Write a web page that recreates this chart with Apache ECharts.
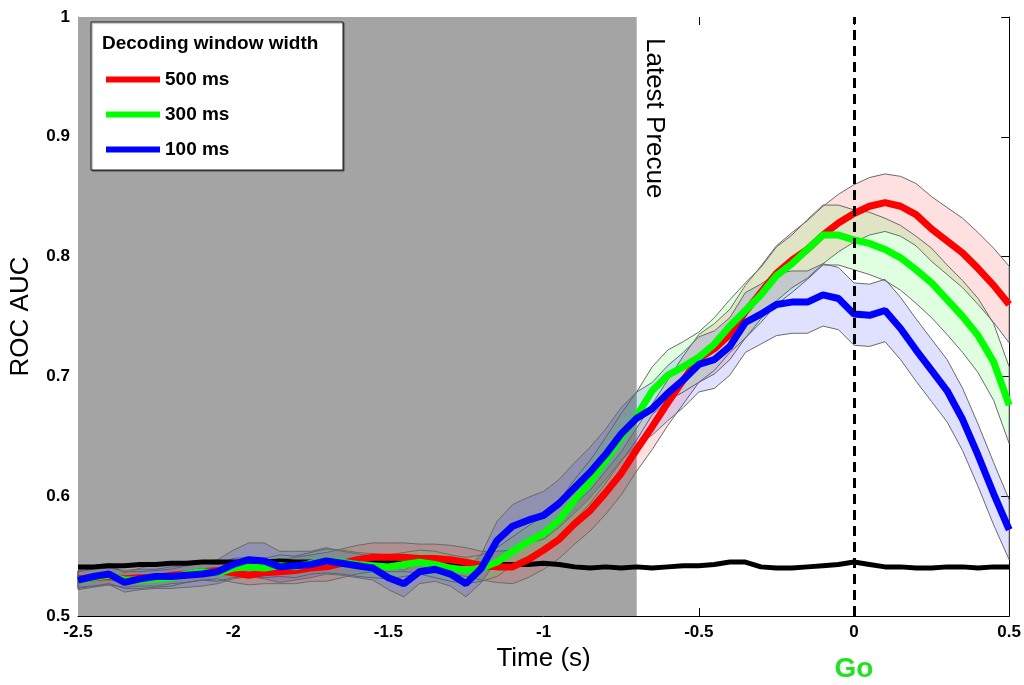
<!DOCTYPE html>
<html>
<head>
<meta charset="utf-8">
<script src="https://cdn.jsdelivr.net/npm/echarts@6/dist/echarts.min.js"></script>
<style>
  html, body { margin: 0; padding: 0; background: #fff; }
  #chart { width: 1024px; height: 685px; }
</style>
</head>
<body>
<div id="chart"></div>
<script>
// time axis (s), sampled every 50 ms
const times = [-2.5, -2.45, -2.4, -2.35, -2.3, -2.25, -2.2, -2.15, -2.1, -2.05,
  -2.0, -1.95, -1.9, -1.85, -1.8, -1.75, -1.7, -1.65, -1.6, -1.55,
  -1.5, -1.45, -1.4, -1.35, -1.3, -1.25, -1.2, -1.15, -1.1, -1.05,
  -1.0, -0.95, -0.9, -0.85, -0.8, -0.75, -0.7, -0.65, -0.6, -0.55,
  -0.5, -0.45, -0.4, -0.35, -0.3, -0.25, -0.2, -0.15, -0.1, -0.05,
  0, 0.05, 0.1, 0.15, 0.2, 0.25, 0.3, 0.35, 0.4, 0.45, 0.5]

// 500 ms window
const red500 = [0.531, 0.532, 0.533, 0.531, 0.532, 0.532, 0.534, 0.535, 0.537, 0.538,
  0.536, 0.534, 0.536, 0.537, 0.538, 0.540, 0.541, 0.544, 0.547, 0.549,
  0.549, 0.549, 0.548, 0.548, 0.547, 0.545, 0.542, 0.541, 0.541, 0.547,
  0.555, 0.564, 0.577, 0.588, 0.603, 0.619, 0.639, 0.658, 0.678, 0.697,
  0.715, 0.723, 0.735, 0.754, 0.770, 0.786, 0.797, 0.806, 0.818, 0.828,
  0.836, 0.842, 0.845, 0.842, 0.835, 0.823, 0.813, 0.803, 0.790, 0.776, 0.760]
const red500Err = [0.007, 0.007, 0.007, 0.007, 0.007, 0.007, 0.007, 0.007, 0.007, 0.007,
  0.008, 0.008, 0.009, 0.010, 0.011, 0.011, 0.012, 0.012, 0.012, 0.012,
  0.012, 0.012, 0.012, 0.012, 0.012, 0.012, 0.012, 0.013, 0.014, 0.015,
  0.016, 0.016, 0.017, 0.017, 0.018, 0.018, 0.018, 0.019, 0.019, 0.020,
  0.020, 0.021, 0.021, 0.022, 0.022, 0.023, 0.023, 0.024, 0.024, 0.024,
  0.024, 0.024, 0.024, 0.025, 0.026, 0.027, 0.028, 0.029, 0.030, 0.031, 0.032]

// 300 ms window
const green300 = [0.530, 0.532, 0.534, 0.530, 0.530, 0.531, 0.532, 0.535, 0.537, 0.536,
  0.540, 0.541, 0.540, 0.542, 0.541, 0.544, 0.546, 0.545, 0.543, 0.542,
  0.541, 0.543, 0.545, 0.543, 0.540, 0.538, 0.540, 0.545, 0.554, 0.562,
  0.569, 0.580, 0.597, 0.612, 0.630, 0.649, 0.667, 0.688, 0.701, 0.708,
  0.716, 0.727, 0.742, 0.755, 0.768, 0.784, 0.794, 0.806, 0.818, 0.818,
  0.814, 0.811, 0.806, 0.799, 0.789, 0.778, 0.764, 0.750, 0.734, 0.712, 0.676]
const green300Err = [0.007, 0.007, 0.007, 0.007, 0.007, 0.007, 0.007, 0.007, 0.007, 0.007,
  0.008, 0.008, 0.008, 0.009, 0.009, 0.009, 0.010, 0.010, 0.010, 0.010,
  0.010, 0.010, 0.010, 0.011, 0.011, 0.011, 0.011, 0.012, 0.012, 0.013,
  0.015, 0.016, 0.017, 0.018, 0.019, 0.020, 0.020, 0.020, 0.021, 0.021,
  0.021, 0.022, 0.022, 0.023, 0.023, 0.024, 0.024, 0.025, 0.025, 0.025,
  0.025, 0.026, 0.026, 0.027, 0.028, 0.029, 0.029, 0.030, 0.031, 0.032, 0.032]

// 100 ms window
const blue100 = [0.530, 0.533, 0.535, 0.528, 0.531, 0.533, 0.533, 0.534, 0.535, 0.537,
  0.543, 0.547, 0.546, 0.541, 0.542, 0.543, 0.546, 0.544, 0.542, 0.540,
  0.532, 0.527, 0.537, 0.539, 0.535, 0.527, 0.540, 0.563, 0.575, 0.580,
  0.584, 0.594, 0.607, 0.620, 0.635, 0.652, 0.665, 0.673, 0.686, 0.697,
  0.710, 0.714, 0.725, 0.745, 0.752, 0.760, 0.762, 0.762, 0.768, 0.765,
  0.752, 0.751, 0.755, 0.740, 0.722, 0.705, 0.688, 0.664, 0.634, 0.602, 0.572]
const blue100Err = [0.008, 0.009, 0.009, 0.008, 0.009, 0.010, 0.010, 0.010, 0.010, 0.010,
  0.012, 0.014, 0.015, 0.013, 0.012, 0.011, 0.011, 0.010, 0.010, 0.010,
  0.010, 0.011, 0.010, 0.010, 0.010, 0.011, 0.012, 0.016, 0.018, 0.019,
  0.020, 0.020, 0.021, 0.021, 0.021, 0.022, 0.022, 0.022, 0.023, 0.023,
  0.023, 0.024, 0.024, 0.025, 0.025, 0.026, 0.026, 0.026, 0.026, 0.026,
  0.026, 0.026, 0.026, 0.026, 0.026, 0.026, 0.026, 0.026, 0.026, 0.026, 0.025]

// shuffled / chance level
const chance = [0.541, 0.541, 0.542, 0.542, 0.543, 0.543, 0.544, 0.544, 0.545, 0.545,
  0.545, 0.545, 0.545, 0.546, 0.545, 0.545, 0.545, 0.545, 0.545, 0.545,
  0.545, 0.544, 0.545, 0.545, 0.544, 0.544, 0.543, 0.543, 0.543, 0.543,
  0.544, 0.543, 0.541, 0.540, 0.541, 0.540, 0.541, 0.540, 0.541, 0.542,
  0.542, 0.543, 0.545, 0.545, 0.541, 0.540, 0.540, 0.541, 0.542, 0.543,
  0.545, 0.543, 0.541, 0.541, 0.540, 0.540, 0.541, 0.541, 0.540, 0.541, 0.541]

const latestPrecue = -0.70 // end of grey precue period
const goTime = 0

const FONT = '"Liberation Sans", Arial, sans-serif'

function pairs(arr) {
  return times.map((t, i) => [t, arr[i]])
}

// shaded band (mean +/- err) drawn as one polygon through the axes
function band(name, mean, err, fill) {
  return {
    type: 'custom',
    name: name,
    silent: true,
    z: 2,
    data: [[times[0], mean[0]]],
    renderItem(params, api) {
      const up = times.map((t, i) => api.coord([t, mean[i] + err[i]]))
      const lo = times.map((t, i) => api.coord([t, mean[i] - err[i]])).reverse()
      return {
        type: 'polygon',
        shape: { points: up.concat(lo) },
        style: { fill: fill, stroke: '#6a6a6a', lineWidth: 1 }
      }
    }
  }
}

function mainLine(name, arr, color, width, z) {
  return {
    type: 'line',
    name: name,
    data: pairs(arr),
    symbol: 'none',
    color: color,
    lineStyle: { color: color, width: width },
    z: z,
    silent: true
  }
}

const chart = echarts.init(document.getElementById('chart'))

chart.setOption({
  animation: false,
  backgroundColor: '#fff',
  textStyle: { fontFamily: FONT },
  grid: { left: 77, right: 11, top: 17, bottom: 69 },
  legend: {
    data: ['500 ms', '300 ms', '100 ms'],
    orient: 'vertical',
    left: 101,
    top: 64,
    icon: 'rect',
    itemWidth: 54,
    itemHeight: 6,
    itemGap: 14,
    z: 10,
    textStyle: { fontFamily: FONT, fontSize: 19, fontWeight: 'bold', color: '#000', lineHeight: 21 }
  },
  xAxis: [{
    type: 'value',
    min: -2.5,
    max: 0.5,
    interval: 0.5,
    name: 'Time (s)',
    nameLocation: 'middle',
    nameGap: 30,
    nameTextStyle: { fontFamily: FONT, fontSize: 26, color: '#000' },
    axisLine: { show: true, onZero: false, lineStyle: { color: '#000', width: 1 } },
    axisTick: { show: true, inside: true, length: 8, lineStyle: { color: '#000' } },
    axisLabel: { fontFamily: FONT, fontSize: 17, fontWeight: 'bold', color: '#000', margin: 8 },
    splitLine: { show: false }
  }, {
    type: 'value',
    position: 'top',
    min: -2.5,
    max: 0.5,
    interval: 0.5,
    axisLine: { show: false },
    axisTick: { show: true, inside: true, length: 8, lineStyle: { color: '#000' } },
    axisLabel: { show: false },
    splitLine: { show: false }
  }],
  yAxis: [{
    type: 'value',
    min: 0.5,
    max: 1,
    interval: 0.1,
    name: 'ROC AUC',
    nameLocation: 'middle',
    nameGap: 44,
    nameRotate: 90,
    nameTextStyle: { fontFamily: FONT, fontSize: 26, color: '#000' },
    axisLine: { show: true, onZero: false, lineStyle: { color: '#777', width: 1 } },
    axisTick: { show: true, inside: true, length: 8, lineStyle: { color: '#000' } },
    axisLabel: { fontFamily: FONT, fontSize: 17, fontWeight: 'bold', color: '#000', margin: 8 },
    splitLine: { show: false }
  }, {
    type: 'value',
    position: 'right',
    min: 0.5,
    max: 1,
    interval: 0.1,
    axisLine: { show: true, onZero: false, lineStyle: { color: '#000', width: 1 } },
    axisTick: { show: true, inside: true, length: 8, lineStyle: { color: '#000' } },
    axisLabel: { show: false },
    splitLine: { show: false }
  }],
  series: [
    {
      type: 'line',
      name: 'precue',
      data: [],
      silent: true,
      markArea: {
        silent: true,
        itemStyle: { color: '#a4a4a4' },
        data: [[{ xAxis: -2.5 }, { xAxis: latestPrecue }]]
      }
    },
    band('band500', red500, red500Err, 'rgba(255,0,0,0.12)'),
    band('band300', green300, green300Err, 'rgba(0,255,0,0.12)'),
    band('band100', blue100, blue100Err, 'rgba(0,0,255,0.12)'),
    mainLine('chance', chance, '#000', 5, 3),
    mainLine('500 ms', red500, '#ff0000', 7, 4),
    mainLine('300 ms', green300, '#00ff00', 7, 4),
    mainLine('100 ms', blue100, '#0000ff', 7, 4),
    {
      type: 'line',
      name: 'go',
      data: [],
      silent: true,
      markLine: {
        silent: true,
        symbol: 'none',
        label: { show: false },
        lineStyle: { color: '#000', width: 3, type: [10, 6] },
        data: [{ xAxis: goTime }]
      }
    }
  ]
})

// annotations placed from data coordinates
const pPre = chart.convertToPixel({ gridIndex: 0 }, [latestPrecue, 1])
const pGo = chart.convertToPixel({ gridIndex: 0 }, [goTime, 0.5])

chart.setOption({
  graphic: [
    {
      type: 'rect',
      z: 9,
      shape: { x: 91, y: 22, width: 252, height: 148 },
      style: { fill: '#fff', stroke: '#222', lineWidth: 1, shadowColor: 'rgba(0,0,0,0.45)', shadowOffsetX: 1, shadowOffsetY: 1, shadowBlur: 1 }
    },
    {
      type: 'text',
      z: 11,
      x: 102,
      y: 44,
      style: { text: 'Decoding window width', font: 'bold 19px ' + FONT, fill: '#000', textVerticalAlign: 'middle' }
    },
    {
      type: 'text',
      z: 11,
      x: pPre[0] + 17,
      y: pPre[1] + 21,
      rotation: -Math.PI / 2,
      style: { text: 'Latest Precue', font: '26px ' + FONT, fill: '#000', textAlign: 'left', textVerticalAlign: 'middle' }
    },
    {
      type: 'text',
      z: 11,
      x: pGo[0],
      y: pGo[1] + 53,
      style: { text: 'Go', font: 'bold 28px ' + FONT, fill: '#22e022', textAlign: 'center', textVerticalAlign: 'middle' }
    }
  ]
})
</script>
</body>
</html>
